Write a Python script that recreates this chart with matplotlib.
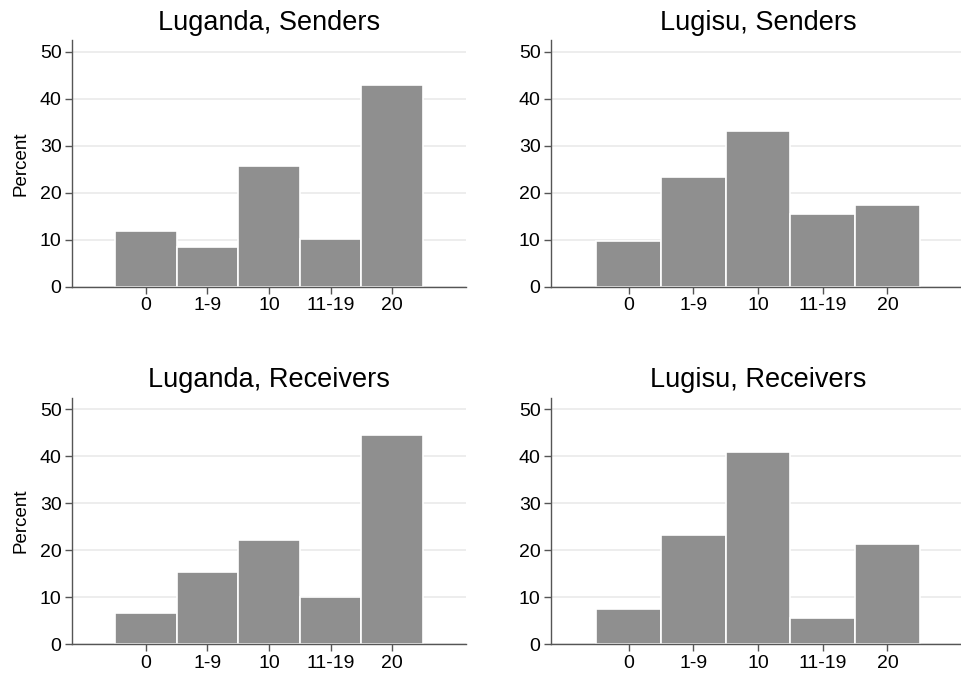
import matplotlib
matplotlib.use('Agg')
import matplotlib.pyplot as plt
import numpy as np

plt.rcParams['font.family'] = ['Liberation Sans', 'DejaVu Sans']

# categories (amount sent / returned)
categories = ['0', '1-9', '10', '11-19', '20']

# percent per category
luganda_senders = [11.9, 8.4, 25.7, 10.1, 42.9]
lugisu_senders = [9.7, 23.3, 33.1, 15.5, 17.4]
luganda_receivers = [6.7, 15.4, 22.2, 10.1, 44.5]
lugisu_receivers = [7.6, 23.3, 40.9, 5.7, 21.4]

y_ticks = [0, 10, 20, 30, 40, 50]

W, H = 961, 675
fig = plt.figure(figsize=(W/100, H/100), dpi=100, facecolor='white')


def px_axes(x0, x1, y_top, y_bot):
    # figure coordinates from pixel edges
    return fig.add_axes([x0/W, 1-y_bot/H, (x1-x0)/W, (y_bot-y_top)/H])


panels = [
    (px_axes(72, 466, 40, 286.7), luganda_senders, 'Luganda, Senders', True),
    (px_axes(551, 965, 40, 286.7), lugisu_senders, 'Lugisu, Senders', False),
    (px_axes(72, 466, 397.5, 644.3), luganda_receivers, 'Luganda, Receivers', True),
    (px_axes(551, 965, 397.5, 644.3), lugisu_receivers, 'Lugisu, Receivers', False),
]

axis_col = '#555555'
for ax, vals, title, show_ylab in panels:
    x = np.arange(len(categories))
    ax.bar(x, vals, width=1.0, color='#8f8f8f', edgecolor='white',
           linewidth=1.2, zorder=2)
    ax.set_xlim(-1.2, 5.2)
    ax.set_ylim(0, 52.5)
    ax.set_yticks(y_ticks)
    ax.set_xticks(x)
    ax.set_xticklabels(categories)
    ax.grid(axis='y', color='#eaeaea', linewidth=1.2, zorder=0)
    ax.set_axisbelow(True)
    for s in ['top', 'right']:
        ax.spines[s].set_visible(False)
    for s in ['left', 'bottom']:
        ax.spines[s].set_color(axis_col)
        ax.spines[s].set_linewidth(1.0)
    ax.tick_params(axis='both', direction='out', length=5, width=1.0,
                   color=axis_col, labelsize=14, labelcolor='black', pad=2.5)
    ax.set_title(title, fontsize=19.5, pad=7.5)
    if show_ylab:
        ax.set_ylabel('Percent', fontsize=13.5, labelpad=7)

fig.savefig('out.png', dpi=100, facecolor='white')
